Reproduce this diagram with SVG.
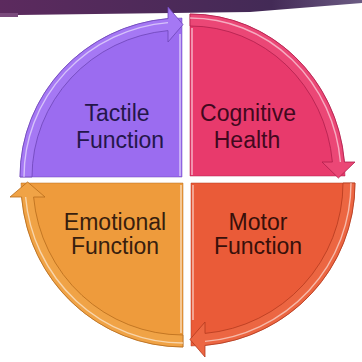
<svg xmlns="http://www.w3.org/2000/svg" width="362" height="362" viewBox="0 0 362 362">
<defs>
<linearGradient id="ban" x1="0" y1="0" x2="1" y2="0">
<stop offset="0" stop-color="#5c2a5e"/>
<stop offset="0.75" stop-color="#432a56"/>
<stop offset="1" stop-color="#6c5c84"/>
</linearGradient>
</defs>
<style>
.lbl{font-family:"Liberation Sans",Arial,sans-serif;font-size:23px;text-anchor:middle}
.hl{fill:none;stroke:#ffffff;stroke-opacity:0.55;stroke-width:1.4}
.edge{fill:none;stroke:#ffffff;stroke-opacity:0.45;stroke-width:2}
</style>
<rect width="362" height="362" fill="#ffffff"/>
<path d="M0,0 H362 V3 L250,12 L18,15 V17 H0 Z" fill="url(#ban)"/>
<path d="M0,13 H18 V17 H0 Z" fill="#7a4a7c"/>
<g id="tactile">
<path d="M182,177 H20 A162,159 0 0 1 182,18 Z" fill="#9b6cf0" stroke="#6d45b8" stroke-opacity="0.5"/>
<path d="M20,177 A162,159 0 0 1 168,18.6 L168,7 L183,24.6 L168,42 L168,30.6 A150,147 0 0 0 32,177 Z" fill="#a578f4" stroke="#6d45b8" stroke-width="0.8"/>
<path class="hl" d="M24,177 A158,155 0 0 1 168,22.6"/>
<line class="edge" x1="180" y1="34" x2="180" y2="176"/>
<text class="lbl" fill="#24164a" x="117" y="121">Tactile</text>
<text class="lbl" fill="#24164a" x="120" y="148">Function</text>
</g>
<g id="cognitive">
<path d="M190,176 V14 A155,162 0 0 1 345,176 Z" fill="#e83a6c" stroke="#b0204c" stroke-opacity="0.5"/>
<path d="M190,14 A155,162 0 0 1 344.4,162 L355,162 L338.4,178 L322,162 L332.4,162 A143,150 0 0 0 190,26 Z" fill="#eb4776" stroke="#b0204c" stroke-width="0.8"/>
<path class="hl" d="M190,18 A151,158 0 0 1 340.4,162"/>
<line class="edge" x1="192" y1="28" x2="192" y2="175"/>
<text class="lbl" fill="#42081e" x="248" y="121">Cognitive</text>
<text class="lbl" fill="#42081e" x="247" y="148">Health</text>
</g>
<g id="motor">
<path d="M191,183 H355 A164,163 0 0 1 191,346 Z" fill="#ea5b38" stroke="#b43a1e" stroke-opacity="0.5"/>
<path d="M355,183 A164,163 0 0 1 205,345.4 L205,357 L190,339.4 L205,322 L205,333.4 A152,151 0 0 0 343,183 Z" fill="#ec6642" stroke="#b43a1e" stroke-width="0.8"/>
<path class="hl" d="M351,183 A160,159 0 0 1 205,341.4"/>
<line class="edge" x1="193" y1="185" x2="193" y2="320"/>
<text class="lbl" fill="#38100a" x="258" y="230">Motor</text>
<text class="lbl" fill="#38100a" x="258" y="254">Function</text>
</g>
<g id="emotional">
<path d="M183,183 V347 A162,164 0 0 1 21,183 Z" fill="#ee9b3c" stroke="#b86c1c" stroke-opacity="0.5"/>
<path d="M183,347 A162,164 0 0 1 21.6,197 L10,197 L27.6,182 L45,197 L33.6,197 A150,152 0 0 0 183,335 Z" fill="#f0a346" stroke="#b86c1c" stroke-width="0.8"/>
<path class="hl" d="M183,343 A158,160 0 0 1 25.6,197"/>
<line class="edge" x1="181" y1="185" x2="181" y2="333"/>
<text class="lbl" fill="#381e0e" x="115" y="230">Emotional</text>
<text class="lbl" fill="#381e0e" x="115" y="254">Function</text>
</g>
<g id="connectors"></g>
</svg>
